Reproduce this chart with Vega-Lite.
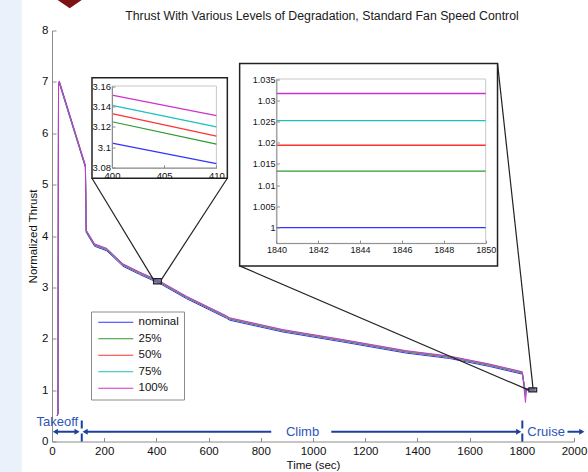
{
  "$schema": "https://vega.github.io/schema/vega-lite/v6.json",
  "width": 522,
  "height": 411,
  "autosize": {"type": "none"},
  "padding": {"left": 52, "top": 30.5, "right": 14, "bottom": 30.5},
  "background": "white",
  "title": {
    "text": "Thrust With Various Levels of Degradation, Standard Fan Speed Control",
    "fontSize": 12.3,
    "fontWeight": "normal",
    "color": "#1a1a1a",
    "font": "Liberation Sans",
    "anchor": "middle",
    "baseline": "alphabetic",
    "dx": 9,
    "offset": -33
  },
  "config": {
    "font": "Liberation Sans",
    "view": {"stroke": null},
    "axis": {
      "grid": false,
      "labelFlush": false,
      "labelOverlap": false,
      "domainColor": "#8c8c8c",
      "tickColor": "#8c8c8c",
      "labelColor": "#111111",
      "titleColor": "#111111",
      "titleFontWeight": "normal",
      "labelFont": "Liberation Sans",
      "titleFont": "Liberation Sans"
    }
  },
  "datasets": {
    "main": [
      {"s":"nominal","t":20,"v":0.5},{"s":"nominal","t":23,"v":0.55},{"s":"nominal","t":25,"v":6.95},{"s":"nominal","t":28,"v":6.971},{"s":"nominal","t":128,"v":5.331},{"s":"nominal","t":131,"v":4.071},{"s":"nominal","t":163,"v":3.801},{"s":"nominal","t":210,"v":3.711},{"s":"nominal","t":272,"v":3.411},{"s":"nominal","t":336,"v":3.251},{"s":"nominal","t":400,"v":3.104},{"s":"nominal","t":410,"v":3.084},{"s":"nominal","t":515,"v":2.781},{"s":"nominal","t":668,"v":2.401},{"s":"nominal","t":681,"v":2.361},{"s":"nominal","t":885,"v":2.131},{"s":"nominal","t":1110,"v":1.941},{"s":"nominal","t":1357,"v":1.721},{"s":"nominal","t":1523,"v":1.616},{"s":"nominal","t":1676,"v":1.461},{"s":"nominal","t":1802,"v":1.311},{"s":"nominal","t":1814,"v":0.98},{"s":"nominal","t":1818,"v":1.0},{"s":"nominal","t":1840,"v":1.0},{"s":"nominal","t":1850,"v":1.0},
      {"s":"25%","t":20,"v":0.5},{"s":"25%","t":23,"v":0.55},{"s":"25%","t":25,"v":6.95},{"s":"25%","t":28,"v":6.992},{"s":"25%","t":128,"v":5.352},{"s":"25%","t":131,"v":4.092},{"s":"25%","t":163,"v":3.822},{"s":"25%","t":210,"v":3.732},{"s":"25%","t":272,"v":3.432},{"s":"25%","t":336,"v":3.272},{"s":"25%","t":400,"v":3.125},{"s":"25%","t":410,"v":3.103},{"s":"25%","t":515,"v":2.802},{"s":"25%","t":668,"v":2.422},{"s":"25%","t":681,"v":2.382},{"s":"25%","t":885,"v":2.152},{"s":"25%","t":1110,"v":1.962},{"s":"25%","t":1357,"v":1.742},{"s":"25%","t":1523,"v":1.637},{"s":"25%","t":1676,"v":1.482},{"s":"25%","t":1802,"v":1.332},{"s":"25%","t":1814,"v":0.95},{"s":"25%","t":1818,"v":1.0133},{"s":"25%","t":1840,"v":1.0133},{"s":"25%","t":1850,"v":1.0133},
      {"s":"50%","t":20,"v":0.5},{"s":"50%","t":23,"v":0.55},{"s":"50%","t":25,"v":6.95},{"s":"50%","t":28,"v":7.0},{"s":"50%","t":128,"v":5.36},{"s":"50%","t":131,"v":4.1},{"s":"50%","t":163,"v":3.83},{"s":"50%","t":210,"v":3.74},{"s":"50%","t":272,"v":3.44},{"s":"50%","t":336,"v":3.28},{"s":"50%","t":400,"v":3.133},{"s":"50%","t":410,"v":3.111},{"s":"50%","t":515,"v":2.81},{"s":"50%","t":668,"v":2.43},{"s":"50%","t":681,"v":2.39},{"s":"50%","t":885,"v":2.16},{"s":"50%","t":1110,"v":1.97},{"s":"50%","t":1357,"v":1.75},{"s":"50%","t":1523,"v":1.645},{"s":"50%","t":1676,"v":1.49},{"s":"50%","t":1802,"v":1.34},{"s":"50%","t":1814,"v":0.92},{"s":"50%","t":1818,"v":1.0194},{"s":"50%","t":1840,"v":1.0194},{"s":"50%","t":1850,"v":1.0194},
      {"s":"75%","t":20,"v":0.5},{"s":"75%","t":23,"v":0.55},{"s":"75%","t":25,"v":6.95},{"s":"75%","t":28,"v":7.008},{"s":"75%","t":128,"v":5.368},{"s":"75%","t":131,"v":4.108},{"s":"75%","t":163,"v":3.838},{"s":"75%","t":210,"v":3.748},{"s":"75%","t":272,"v":3.448},{"s":"75%","t":336,"v":3.288},{"s":"75%","t":400,"v":3.141},{"s":"75%","t":410,"v":3.12},{"s":"75%","t":515,"v":2.818},{"s":"75%","t":668,"v":2.438},{"s":"75%","t":681,"v":2.398},{"s":"75%","t":885,"v":2.168},{"s":"75%","t":1110,"v":1.978},{"s":"75%","t":1357,"v":1.758},{"s":"75%","t":1523,"v":1.653},{"s":"75%","t":1676,"v":1.498},{"s":"75%","t":1802,"v":1.348},{"s":"75%","t":1814,"v":0.87},{"s":"75%","t":1818,"v":1.0252},{"s":"75%","t":1840,"v":1.0252},{"s":"75%","t":1850,"v":1.0252},
      {"s":"100%","t":20,"v":0.5},{"s":"100%","t":23,"v":0.55},{"s":"100%","t":25,"v":6.95},{"s":"100%","t":28,"v":7.018},{"s":"100%","t":128,"v":5.378},{"s":"100%","t":131,"v":4.118},{"s":"100%","t":163,"v":3.848},{"s":"100%","t":210,"v":3.758},{"s":"100%","t":272,"v":3.458},{"s":"100%","t":336,"v":3.298},{"s":"100%","t":400,"v":3.151},{"s":"100%","t":410,"v":3.131},{"s":"100%","t":515,"v":2.828},{"s":"100%","t":668,"v":2.448},{"s":"100%","t":681,"v":2.408},{"s":"100%","t":885,"v":2.178},{"s":"100%","t":1110,"v":1.988},{"s":"100%","t":1357,"v":1.768},{"s":"100%","t":1523,"v":1.663},{"s":"100%","t":1676,"v":1.508},{"s":"100%","t":1802,"v":1.358},{"s":"100%","t":1814,"v":0.76},{"s":"100%","t":1818,"v":1.0316},{"s":"100%","t":1840,"v":1.0316},{"s":"100%","t":1850,"v":1.0316}
    ],
    "strip": [{"t":-201,"t2":-116,"v":-0.7,"v2":8.6}],
    "badge": [{"t":67.8,"v":8.432}],
    "boxes": [
      {"t":153.2,"t2":671.8,"v":5.125,"v2":7.08},
      {"t":718.9,"t2":1707,"v":3.418,"v2":7.36}
    ],
    "zooms": [
      {"t":389,"t2":419,"v":3.07,"v2":3.17},
      {"t":1827,"t2":1857,"v":0.965,"v2":1.045}
    ],
    "links": [
      {"t":153.2,"v":5.125,"t2":389,"v2":3.15},
      {"t":671.8,"v":5.125,"t2":419,"v2":3.15},
      {"t":718.9,"v":3.418,"t2":1827,"v2":1.0},
      {"t":1707,"v":7.36,"t2":1843,"v2":1.04}
    ],
    "spans": [
      {"t":12,"t2":98,"v":0.19},
      {"t":126,"t2":840,"v":0.19},
      {"t":1070,"t2":1790,"v":0.19},
      {"t":1975,"t2":2030,"v":0.19}
    ],
    "headsL": [{"t":13,"v":0.19},{"t":127,"v":0.19}],
    "headsR": [{"t":96,"v":0.19},{"t":1788,"v":0.19},{"t":2030,"v":0.19}],
    "dividers": [{"t":114,"v":0.0,"v2":0.49},{"t":1802,"v":0.0,"v2":0.49}],
    "phases": [
      {"t":20.6,"v":0.37,"label":"Takeoff"},
      {"t":960,"v":0.19,"label":"Climb"},
      {"t":1893,"v":0.19,"label":"Cruise"}
    ],
    "frame1": [{"t":400,"t2":410,"v":3.08,"v2":3.16}],
    "frame2": [{"t":1840,"t2":1850,"v":0.9963,"v2":1.035}]
  },
  "layer": [
    {
      "encoding": {
        "x": {"field": "t", "type": "quantitative", "scale": {"domain": [0, 2000], "nice": false, "zero": false}},
        "y": {"field": "v", "type": "quantitative", "scale": {"domain": [0, 8], "nice": false, "zero": false}}
      },
      "layer": [
        {
          "data": {"name": "strip"},
          "mark": {"type": "rect", "fill": "#eaf1fa", "stroke": null},
          "encoding": {"x2": {"field": "t2"}, "y2": {"field": "v2"}}
        },
        {
          "data": {"name": "badge"},
          "mark": {"type": "point", "shape": "M-1.45,-1L1.45,-1L0,0Z", "size": 276, "filled": true, "fill": "#7d1212", "stroke": null, "opacity": 1}
        },
        {
          "data": {"name": "main"},
          "mark": {"type": "line", "strokeWidth": 1},
          "encoding": {
            "x": {"field": "t", "type": "quantitative", "axis": {"title": "Time (sec)", "values": [0,200,400,600,800,1000,1200,1400,1600,1800,2000], "format": "d", "tickSize": -4, "labelPadding": 8, "labelFontSize": 11.5, "titleFontSize": 11.5, "titlePadding": 2}},
            "y": {"field": "v", "type": "quantitative", "axis": {"title": "Normalized Thrust", "values": [0,1,2,3,4,5,6,7,8], "tickSize": -4, "labelPadding": 8, "labelFontSize": 11.5, "titleFontSize": 11.5, "titlePadding": 3}},
            "color": {
              "field": "s", "type": "nominal",
              "scale": {"domain": ["nominal", "25%", "50%", "75%", "100%"], "range": ["#3333ff", "#2e9b2e", "#ff3333", "#1fbfbf", "#cc33cc"]},
              "legend": {
                "title": null, "orient": "none", "legendX": 39, "legendY": 281,
                "symbolType": "M-5,0H5", "symbolSize": 49, "symbolStrokeWidth": 1,
                "labelFontSize": 11.5, "labelColor": "#111111", "labelOffset": 17, "rowPadding": 3.5,
                "symbolOffset": 14, "padding": 5, "strokeColor": "#8c8c8c", "fillColor": "white"
              }
            },
            "order": {"field": "t", "type": "quantitative"}
          }
        },
        {
          "data": {"name": "links"},
          "mark": {"type": "rule", "color": "#222222", "strokeWidth": 1.2},
          "encoding": {"x2": {"field": "t2"}, "y2": {"field": "v2"}}
        },
        {
          "data": {"name": "boxes"},
          "mark": {"type": "rect", "fill": "white", "stroke": "#222222", "strokeWidth": 1.5},
          "encoding": {"x2": {"field": "t2"}, "y2": {"field": "v2"}}
        },
        {
          "data": {"name": "zooms"},
          "mark": {"type": "rect", "fill": "#6a6a90", "fillOpacity": 0.7, "stroke": "#222222", "strokeWidth": 1.2},
          "encoding": {"x2": {"field": "t2"}, "y2": {"field": "v2"}}
        },
        {
          "data": {"name": "spans"},
          "mark": {"type": "rule", "color": "#1d3f9e", "strokeWidth": 2},
          "encoding": {"x2": {"field": "t2"}}
        },
        {
          "data": {"name": "headsL"},
          "mark": {"type": "point", "shape": "triangle-left", "size": 35, "filled": true, "color": "#1d3f9e", "opacity": 1}
        },
        {
          "data": {"name": "headsR"},
          "mark": {"type": "point", "shape": "triangle-right", "size": 35, "filled": true, "color": "#1d3f9e", "opacity": 1}
        },
        {
          "data": {"name": "dividers"},
          "mark": {"type": "rule", "color": "#1d3f9e", "strokeWidth": 2, "strokeDash": [8, 5]},
          "encoding": {"y2": {"field": "v2"}}
        },
        {
          "data": {"name": "phases"},
          "mark": {"type": "text", "color": "#2d55b8", "fontSize": 13, "align": "center", "baseline": "middle", "font": "Liberation Sans"},
          "encoding": {"text": {"field": "label"}}
        }
      ]
    },
    {
      "encoding": {
        "x": {"field": "t", "type": "quantitative", "scale": {"domain": [400, 410], "range": [60, 164.4], "nice": false, "zero": false}},
        "y": {"field": "v", "type": "quantitative", "scale": {"domain": [3.08, 3.16], "range": [137.2, 55.5], "nice": false, "zero": false}}
      },
      "layer": [
        {
          "data": {"name": "frame1"},
          "mark": {"type": "rect", "fill": "white", "stroke": "#c8c8c8", "strokeWidth": 1},
          "encoding": {"x2": {"field": "t2"}, "y2": {"field": "v2"}}
        },
        {
          "data": {"name": "main"},
          "transform": [{"filter": {"field": "t", "range": [400, 410]}}],
          "mark": {"type": "line", "strokeWidth": 1.2},
          "encoding": {
            "x": {"field": "t", "type": "quantitative", "axis": {"orient": "bottom", "offset": -273.7, "zindex": 1, "title": null, "values": [400, 405, 410], "format": "d", "tickSize": -3, "labelPadding": 5.5, "labelFontSize": 9.5}},
            "y": {"field": "v", "type": "quantitative", "axis": {"orient": "left", "offset": -60, "zindex": 1, "title": null, "values": [3.08, 3.1, 3.12, 3.14, 3.16], "format": "~g", "tickSize": -3, "labelPadding": 4.5, "labelFontSize": 9.5}},
            "color": {"field": "s", "type": "nominal", "legend": null}
          }
        }
      ]
    },
    {
      "encoding": {
        "x": {"field": "t", "type": "quantitative", "scale": {"domain": [1840, 1850], "range": [224.4, 433.7], "nice": false, "zero": false}},
        "y": {"field": "v", "type": "quantitative", "scale": {"domain": [0.9963, 1.035], "range": [212.8, 48.5], "nice": false, "zero": false}}
      },
      "layer": [
        {
          "data": {"name": "frame2"},
          "mark": {"type": "rect", "fill": "white", "stroke": "#c8c8c8", "strokeWidth": 1},
          "encoding": {"x2": {"field": "t2"}, "y2": {"field": "v2"}}
        },
        {
          "data": {"name": "main"},
          "transform": [{"filter": {"field": "t", "range": [1840, 1850]}}],
          "mark": {"type": "line", "strokeWidth": 1.4},
          "encoding": {
            "x": {"field": "t", "type": "quantitative", "axis": {"orient": "bottom", "offset": -198.4, "zindex": 1, "title": null, "values": [1840, 1842, 1844, 1846, 1848, 1850], "format": "d", "tickSize": -3, "labelPadding": 5.5, "labelFontSize": 9}},
            "y": {"field": "v", "type": "quantitative", "axis": {"orient": "left", "offset": -224.4, "zindex": 1, "title": null, "values": [1, 1.005, 1.01, 1.015, 1.02, 1.025, 1.03, 1.035], "format": "~g", "tickSize": -3, "labelPadding": 4.5, "labelFontSize": 9}},
            "color": {"field": "s", "type": "nominal", "legend": null}
          }
        }
      ]
    }
  ],
  "resolve": {"scale": {"x": "independent", "y": "independent"}, "axis": {"x": "independent", "y": "independent"}}
}
